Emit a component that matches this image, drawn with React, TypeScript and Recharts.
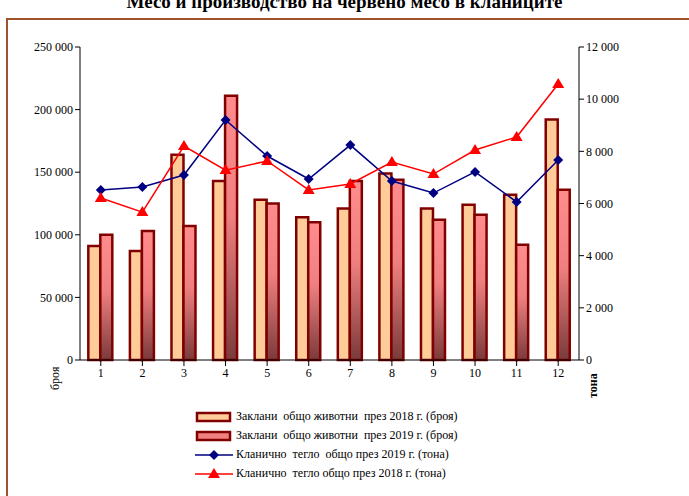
import { Bar, ComposedChart, Line, XAxis, YAxis } from 'recharts';

const months = ['1', '2', '3', '4', '5', '6', '7', '8', '9', '10', '11', '12'];
const slaughtered2018 = [91000, 87000, 164000, 143000, 128000, 114000, 121000, 149000, 121000, 124000, 132000, 192000];
const slaughtered2019 = [100000, 103000, 107000, 211000, 125000, 110000, 143000, 144000, 112000, 116000, 92000, 136000];
const carcass2019 = [6520, 6630, 7090, 9200, 7820, 6940, 8240, 6860, 6400, 7210, 6060, 7670];
const carcass2018 = [6210, 5670, 8200, 7280, 7630, 6520, 6750, 7590, 7130, 8050, 8550, 10580];
const leftTicks = [0, 50000, 100000, 150000, 200000, 250000];
const rightTicks = [0, 2000, 4000, 6000, 8000, 10000, 12000];

const data = months.map((m, i) => ({
  m,
  s18: slaughtered2018[i],
  s19: slaughtered2019[i],
  c19: carcass2019[i],
  c18: carcass2018[i],
}));

const fmt = (v: number) => (v === 0 ? '0' : v.toLocaleString('en-US').replace(/,/g, ' '));
const font = { fontFamily: 'Liberation Serif', fontSize: 12, fill: '#000' };

const Diamond = (p: any) => (
  <path d={`M${p.cx},${p.cy - 5}L${p.cx + 5},${p.cy}L${p.cx},${p.cy + 5}L${p.cx - 5},${p.cy}Z`} fill="#000080" />
);
const Tri = (p: any) => (
  <path d={`M${p.cx},${p.cy - 6}L${p.cx + 6},${p.cy + 4}L${p.cx - 6},${p.cy + 4}Z`} fill="#ff0000" />
);

const legendItems = [
  { label: 'Заклани  общо животни  през 2018 г. (броя)', kind: 'bar18' },
  { label: 'Заклани  общо животни  през 2019 г. (броя)', kind: 'bar19' },
  { label: 'Кланично  тегло  общо през 2019 г. (тона)', kind: 'line19' },
  { label: 'Кланично  тегло общо през 2018 г. (тона)', kind: 'line18' },
];

export default function App() {
  return (
    <div style={{ position: 'absolute', left: 0, top: 0, width: 689, height: 496, overflow: 'hidden', background: '#fff' }}>
      <div style={{ position: 'absolute', left: 0, right: 0, top: -9, textAlign: 'center', fontFamily: 'Liberation Serif', fontWeight: 'bold', fontSize: 19 }}>
        Месо и производство на червено месо в кланиците
      </div>
      <div style={{ position: 'absolute', left: 6, top: 18, width: 700, height: 500, borderLeft: '2px solid #a0522d', borderTop: '2px solid #a0522d' }} />
      <div style={{ position: 'absolute', left: 0, top: 0 }}>
        <ComposedChart width={689} height={400} data={data} margin={{ top: 47, right: 50, bottom: 15, left: 20 }} barGap={0} barCategoryGap="20%">
          <defs>
            <linearGradient id="g19" x1="0" y1="0" x2="0" y2="1">
              <stop offset="0%" stopColor="#ff8c8c" />
              <stop offset="45%" stopColor="#f08080" />
              <stop offset="100%" stopColor="#7a3a3a" />
            </linearGradient>
          </defs>
          <XAxis dataKey="m" tick={font} tickLine={{ stroke: '#000' }} axisLine={{ stroke: '#000' }} height={25} />
          <YAxis yAxisId="l" domain={[0, 250000]} ticks={leftTicks} tickFormatter={fmt} tick={font} width={60}
            axisLine={{ stroke: '#000' }} tickLine={{ stroke: '#000' }} tickSize={5} />
          <YAxis yAxisId="r" orientation="right" domain={[0, 12000]} ticks={rightTicks} tickFormatter={fmt} tick={font} width={60}
            axisLine={{ stroke: '#000' }} tickLine={{ stroke: '#000' }} tickSize={5} />
          <Bar yAxisId="l" dataKey="s18" fill="#ffcc99" stroke="#800000" strokeWidth={2.5} isAnimationActive={false} />
          <Bar yAxisId="l" dataKey="s19" fill="url(#g19)" stroke="#800000" strokeWidth={2.5} isAnimationActive={false} />
          <Line yAxisId="r" dataKey="c19" stroke="#000080" strokeWidth={1.5} dot={<Diamond />} activeDot={false} isAnimationActive={false} />
          <Line yAxisId="r" dataKey="c18" stroke="#ff0000" strokeWidth={1.5} dot={<Tri />} activeDot={false} isAnimationActive={false} />
        </ComposedChart>
      </div>
      <div style={{ position: 'absolute', left: 48, top: 390, transform: 'rotate(-90deg)', transformOrigin: 'left top', fontFamily: 'Liberation Serif', fontSize: 12 }}>броя</div>
      <div style={{ position: 'absolute', left: 586, top: 398, transform: 'rotate(-90deg)', transformOrigin: 'left top', fontFamily: 'Liberation Serif', fontSize: 12, fontWeight: 'bold' }}>тона</div>
      <div style={{ position: 'absolute', left: 195, top: 407, fontFamily: 'Liberation Serif', fontSize: 12 }}>
        {legendItems.map((it) => (
          <div key={it.kind} style={{ display: 'flex', alignItems: 'center', height: 19 }}>
            <svg width={38} height={14}>
              {it.kind === 'bar18' && <rect x={2} y={3} width={33} height={8} fill="#ffcc99" stroke="#800000" strokeWidth={2.5} />}
              {it.kind === 'bar19' && <rect x={2} y={3} width={33} height={8} fill="#f08080" stroke="#800000" strokeWidth={2.5} />}
              {it.kind === 'line19' && (
                <>
                  <line x1={0} y1={7} x2={38} y2={7} stroke="#000080" strokeWidth={1.5} />
                  <path d="M19,2L24,7L19,12L14,7Z" fill="#000080" />
                </>
              )}
              {it.kind === 'line18' && (
                <>
                  <line x1={0} y1={7} x2={38} y2={7} stroke="#ff0000" strokeWidth={1.5} />
                  <path d="M19,1L25,11L13,11Z" fill="#ff0000" />
                </>
              )}
            </svg>
            <span style={{ marginLeft: 3, whiteSpace: 'pre' }}>{it.label}</span>
          </div>
        ))}
      </div>
    </div>
  );
}
